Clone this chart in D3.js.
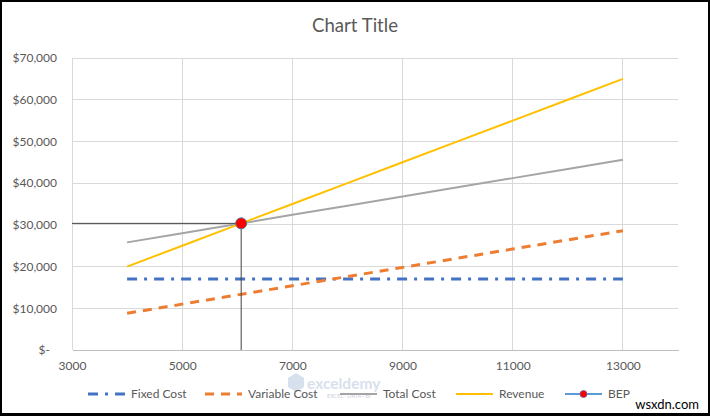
<!DOCTYPE html>
<html><head><meta charset="utf-8">
<script src="https://cdn.jsdelivr.net/npm/d3@7"></script>
<style>
html,body{margin:0;padding:0;background:#000;}
svg{display:block;}
text{font-family:Lato,"Open Sans",sans-serif;}
</style></head>
<body>
<svg id="chart" width="710" height="416"></svg>
<script>
// ---- data ----
const units = [4000, 5000, 6000, 7000, 8000, 9000, 10000, 11000, 12000, 13000];
const fixedCost = [17000, 17000, 17000, 17000, 17000, 17000, 17000, 17000, 17000, 17000];
const variableCost = [8800, 11000, 13200, 15400, 17600, 19800, 22000, 24200, 26400, 28600];
const totalCost = [25800, 28000, 30200, 32400, 34600, 36800, 39000, 41200, 43400, 45600];
const revenue = [20000, 25000, 30000, 35000, 40000, 45000, 50000, 55000, 60000, 65000];
const bepUnits = [6071];
const bepValue = [30357];
const xTicks = [3000, 5000, 7000, 9000, 11000, 13000];
const yTicks = [0, 10000, 20000, 30000, 40000, 50000, 60000, 70000];
const seriesNames = ["Fixed Cost", "Variable Cost", "Total Cost", "Revenue", "BEP"];

const svg = d3.select("#chart");
// frame
svg.append("rect").attr("x", 0).attr("y", 0).attr("width", 710).attr("height", 416).attr("fill", "#000");
svg.append("rect").attr("x", 2).attr("y", 2).attr("width", 706).attr("height", 411).attr("fill", "#fff");

const L = 72, R = 678, T = 58, B = 350;
const x = d3.scaleLinear().domain([3000, 14000]).range([L, R]);
const y = d3.scaleLinear().domain([0, 70000]).range([B, T]);

// title
svg.append("text").attr("x", 355).attr("y", 32).attr("text-anchor", "middle")
  .attr("font-size", "18.6px").attr("fill", "#595959").text("Chart Title");

// gridlines
const g = svg.append("g");
g.selectAll("line.h").data(yTicks.filter(d => d > 0)).join("line")
  .attr("x1", L).attr("x2", R).attr("y1", d => y(d)).attr("y2", d => y(d))
  .attr("stroke", "#d9d9d9").attr("stroke-width", 1).attr("shape-rendering", "crispEdges");
g.selectAll("line.v").data(xTicks).join("line")
  .attr("x1", d => x(d)).attr("x2", d => x(d)).attr("y1", T).attr("y2", B)
  .attr("stroke", "#d9d9d9").attr("stroke-width", 1).attr("shape-rendering", "crispEdges");

// axes
const xAxis = svg.append("g").attr("transform", `translate(0,${B})`)
  .call(d3.axisBottom(x).tickValues(xTicks).tickSize(0).tickPadding(11).tickFormat(d3.format("d")));
xAxis.select(".domain").attr("stroke", "#bfbfbf").attr("shape-rendering", "crispEdges");
xAxis.selectAll("text").attr("font-size", "12px").attr("fill", "#595959").attr("font-family", "Lato,sans-serif");

const yFmt = d => d === 0 ? "$-" : "$" + d3.format(",")(d);
const yAxis = svg.append("g").attr("transform", `translate(${L},0)`)
  .call(d3.axisLeft(y).tickValues(yTicks).tickSize(0).tickPadding(15).tickFormat(yFmt));
yAxis.select(".domain").remove();
yAxis.selectAll("text").attr("font-size", "12px").attr("fill", "#595959").attr("font-family", "Lato,sans-serif")
  .attr("dx", d => d === 0 ? -7 : 0);

// watermark
const wm = svg.append("g").attr("opacity", 0.55);
wm.append("path").attr("d", "M288,378 l8,-5 l8,5 v9 l-8,5 l-8,-5 z").attr("fill", "#b8c8e0");
wm.append("text").attr("x", 307).attr("y", 389).attr("font-size", "15.5px").attr("font-weight", "bold")
  .attr("fill", "#b8c8e0").attr("font-family", "Lato,sans-serif").text("exceldemy");
wm.append("text").attr("x", 327).attr("y", 398).attr("font-size", "5.5px")
  .attr("fill", "#9aa8bb").attr("font-family", "Lato,sans-serif").text("EXCEL · DATA · BI");

// series
const line = d3.line().x(d => x(d[0])).y(d => y(d[1]));
const zipS = vals => units.map((u, i) => [u, vals[i]]);
const styles = [
  {vals: fixedCost, color: "#4472c4", w: 3, dash: "10,7,3,7"},
  {vals: variableCost, color: "#ed7d31", w: 3, dash: "9,7"},
  {vals: totalCost, color: "#a5a5a5", w: 2, dash: null},
  {vals: revenue, color: "#ffc000", w: 2, dash: null}
];
styles.forEach(s => {
  svg.append("path").datum(zipS(s.vals)).attr("d", line)
    .attr("fill", "none").attr("stroke", s.color).attr("stroke-width", s.w)
    .attr("stroke-dasharray", s.dash);
});

// BEP guide lines
bepUnits.forEach((u, i) => {
  svg.append("line").attr("x1", L).attr("x2", x(u)).attr("y1", y(bepValue[i])).attr("y2", y(bepValue[i]))
    .attr("stroke", "#404040").attr("stroke-width", 1);
  svg.append("line").attr("x1", x(u)).attr("x2", x(u)).attr("y1", y(bepValue[i])).attr("y2", B)
    .attr("stroke", "#404040").attr("stroke-width", 1);
});
svg.selectAll("circle.bep").data(bepUnits).join("circle")
  .attr("cx", d => x(d)).attr("cy", (d, i) => y(bepValue[i])).attr("r", 5.5)
  .attr("fill", "#ff0000").attr("stroke", "#5a6f9a").attr("stroke-width", 1);

// legend
const legX = [88, 205, 340, 456, 565];
const legY = 394;
const lg = svg.append("g");
seriesNames.forEach((name, i) => {
  const x0 = legX[i];
  const st = i < 4 ? styles[i] : {color: "#5b9bd5", w: 2, dash: null};
  lg.append("line").attr("x1", x0).attr("x2", x0 + 37).attr("y1", legY).attr("y2", legY)
    .attr("stroke", st.color).attr("stroke-width", st.w).attr("stroke-dasharray", st.dash);
  if (i === 4) {
    lg.append("circle").attr("cx", x0 + 18.5).attr("cy", legY).attr("r", 3.5)
      .attr("fill", "#ff0000").attr("stroke", "#5a6f9a").attr("stroke-width", 0.8);
  }
  lg.append("text").attr("x", x0 + 43).attr("y", legY + 4).attr("font-size", "12px")
    .attr("fill", "#595959").text(name);
});

// site mark
svg.append("text").attr("x", 699).attr("y", 409).attr("text-anchor", "end")
  .attr("font-size", "13px").attr("fill", "#000").attr("font-family", "Liberation Sans,Arial,sans-serif").text("wsxdn.com");
</script>
</body></html>
